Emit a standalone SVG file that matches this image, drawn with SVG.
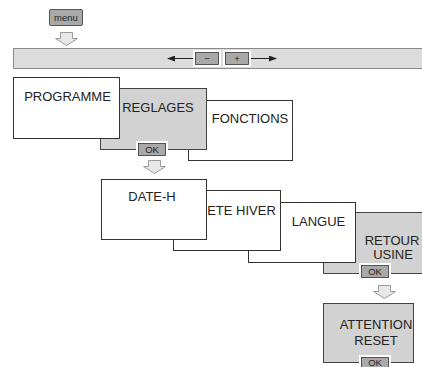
<svg xmlns="http://www.w3.org/2000/svg" width="422" height="367" viewBox="0 0 422 367">
<defs>
<style>
.box{fill:#ffffff;stroke:#333;stroke-width:1}
.gbox{fill:#d2d2d2;stroke:#444;stroke-width:1}
.t{font-family:"Liberation Sans",Arial,sans-serif;font-size:13px;fill:#222;text-anchor:middle}
.bt{font-family:"Liberation Sans",Arial,sans-serif;font-size:9.5px;fill:#222;text-anchor:middle}
.btn{fill:#a9a9a9;stroke:#333;stroke-width:0.8}
.halo{fill:#ffffff}
.harrow{fill:#e8e8e8;stroke:#9a9a9a;stroke-width:1}
.line{stroke:#222;stroke-width:1;fill:none}
</style>
<marker id="ah" markerWidth="8" markerHeight="6" refX="7" refY="3" orient="auto" markerUnits="userSpaceOnUse">
<path d="M0,0 L8,3 L0,6 Z" fill="#222"/>
</marker>
</defs>
<rect width="422" height="367" fill="#ffffff"/>

<g id="menu">
<rect class="btn" x="49.5" y="9.5" width="33" height="16" rx="1.5"/>
<text class="bt" x="66" y="21" font-size="10">menu</text>
</g>

<g id="bar">
<rect x="13.5" y="48.5" width="410" height="20" fill="#dcdcdc" stroke="#8a8a8a"/>
<rect class="halo" x="193" y="50" width="28" height="17"/>
<rect class="btn" x="195.5" y="52.5" width="23" height="12"/>
<text class="bt" x="207" y="62">−</text>
<rect class="halo" x="223" y="50" width="28" height="17"/>
<rect class="btn" x="225.5" y="52.5" width="23" height="12"/>
<text class="bt" x="237" y="62">+</text>
</g>

<g id="fonctions">
<rect class="box" x="188.5" y="100.5" width="104" height="60"/>
<text class="t" x="250" y="123">FONCTIONS</text>
</g>
<g id="reglages">
<rect class="gbox" x="100.5" y="88.5" width="106" height="61"/>
<text class="t" x="158" y="112">REGLAGES</text>
<rect class="halo" x="136" y="141" width="32" height="17"/>
<rect class="btn" x="138.5" y="143.5" width="27" height="12"/>
<text class="bt" x="152" y="153">OK</text>
</g>
<g id="programme">
<rect class="box" x="13.5" y="77.5" width="106" height="61"/>
<text class="t" x="67.5" y="101">PROGRAMME</text>
</g>

<g id="retour-usine">
<rect class="gbox" x="323.5" y="212.5" width="102" height="61"/>
<text class="t" x="392" y="245">RETOUR</text>
<text class="t" x="393" y="259">USINE</text>
<rect class="halo" x="359" y="263" width="32" height="17"/>
<rect class="btn" x="361.5" y="265.5" width="27" height="12"/>
<text class="bt" x="375" y="275">OK</text>
</g>
<g id="langue">
<rect class="box" x="248.5" y="202.5" width="107" height="60"/>
<text class="t" x="318.5" y="226">LANGUE</text>
</g>
<g id="ete-hiver">
<rect class="box" x="173.5" y="190.5" width="107" height="60"/>
<text class="t" x="241.5" y="215">ETE HIVER</text>
</g>
<g id="date-h">
<rect class="box" x="101.5" y="179.5" width="105" height="60"/>
<text class="t" x="152" y="201">DATE-H</text>
</g>

<g id="attention-reset">
<rect class="gbox" x="323.5" y="303.5" width="90" height="59"/>
<text class="t" x="376" y="329">ATTENTION</text>
<text class="t" x="376" y="345">RESET</text>
<rect class="halo" x="359" y="355" width="32" height="17"/>
<rect class="btn" x="361.5" y="357.5" width="27" height="12"/>
<text class="bt" x="375" y="366">OK</text>
</g>

<g id="connectors">
<polygon class="harrow" points="60.5,32.5 72.5,32.5 72.5,38.5 77.5,38.5 66.5,45.5 55.5,38.5 60.5,38.5"/>
<polygon class="harrow" points="148.5,160.5 160.5,160.5 160.5,166.5 165.5,166.5 154.5,173.5 143.5,166.5 148.5,166.5"/>
<polygon class="harrow" points="378.5,285.5 390.5,285.5 390.5,291.5 395.5,291.5 384.5,298.5 373.5,291.5 378.5,291.5"/>
<line class="line" x1="193" y1="58.5" x2="168" y2="58.5" marker-end="url(#ah)"/>
<line class="line" x1="251" y1="58.5" x2="276" y2="58.5" marker-end="url(#ah)"/>
</g>
</svg>
